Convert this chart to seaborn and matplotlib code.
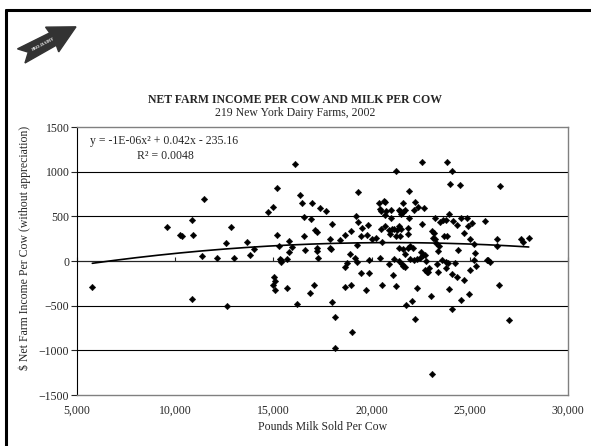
import numpy as np
import pandas as pd
import matplotlib
matplotlib.use("Agg")
import matplotlib.pyplot as plt
import seaborn as sns
from matplotlib.lines import Line2D
from matplotlib.patches import Polygon
from matplotlib.ticker import FuncFormatter, NullFormatter

# pounds milk sold per cow, net farm income per cow ($)
milk = [
    5780, 9570, 10230, 10360, 10840, 10920, 10870, 11470, 11380, 12110, 12590, 12840, 12980, 12620, 13660, 13810,
    13995, 16116, 15201, 14725, 14963, 16371, 16438, 16947, 17372, 17678, 16540, 16914, 15201, 15303, 15795, 15812,
    15947, 16573, 16609, 17134, 17237, 17220, 17220, 17288, 17967, 17882, 17882, 17933, 18408, 18646, 18968, 19293,
    19226, 19327, 19531, 19837, 19751, 19446, 19243, 18887, 19158, 19260, 19888, 18760, 18625, 19463, 19854, 19717,
    18968, 18663, 15336, 15405, 15387, 15677, 15047, 15100, 14980, 15100, 15677, 17083, 16863, 16186, 17984, 18152,
    19022, 18152,
    21242, 22582, 23839, 24109, 23976, 24516, 21919, 20392, 20647, 20698, 20428, 20462, 20749, 20988, 20664, 20968,
    21579, 21392, 21460, 21599, 21684, 21511, 22233, 22148, 22386, 22691, 21884, 20020, 20224, 20530, 20479, 20682,
    20870, 21022, 21157, 20937, 21258, 21410, 21511, 21293, 21446, 21853, 21867, 21410, 21613, 21701, 21853, 21955,
    22108, 22549, 23095, 23183, 23132, 23218, 23251, 23505, 23642, 23777, 23930, 24134, 24363, 24567, 24839, 24890,
    25093, 25789, 24705, 25010, 25230, 25247, 23676, 23856, 23302, 23432, 23364, 24399, 22530, 22600, 22719, 22464,
    22787, 22295, 22159, 21955, 22736, 22838, 22923, 22889, 23347, 23364, 23585, 23805, 23907, 23788, 24075, 24262,
    24330, 24705, 23959, 24567, 24959, 24093, 25010, 25214, 25298, 25943, 21613, 21546, 21714, 21392, 21137, 20901,
    20410, 21073, 20545, 21242, 22311, 21768, 22080, 22193, 23024, 23091,
    26553, 26400, 26400, 27622, 27724, 28000, 25891, 26044, 26486, 26980,
]
income = [
    -287, 384, 294, 279, 458, 294, -421, 699, 54, 36, 204, 384, 28, -503, 216, 70,
    129, 1084, 822, 545, 605, 736, 650, 646, 590, 560, 489, 470, 290, 171, 223, 103,
    160, 275, 126, 343, 328, 144, 107, 28, 418, 245, 140, 129, 238, 290, 339, 773,
    508, 436, 369, 407, 290, 283, 178, 81, 39, -13, 13, -25, -62, -129, -137, -320,
    -264, -290, 25, 6, -13, 25, -174, -219, -267, -324, -298, -267, -362, -485, -459, -627,
    -792, -972,
    1013, 1103, 1110, 1006, 863, 848, 784, 650, 672, 657, 579, 556, 560, 575, 511, 481,
    646, 575, 560, 553, 571, 530, 665, 571, 605, 593, 478, 245, 256, 211, 357, 391,
    350, 357, 362, 301, 275, 388, 362, 343, 275, 373, 306, 140, 133, 81, 148, 163,
    148, 418, 331, 317, 261, 242, 481, 436, 455, 458, 522, 444, 399, 481, 481, 388,
    425, 444, 312, 242, 185, 92, 279, 279, 204, 171, 115, 118, 99, 70, 62, 31,
    -2, 17, 9, 17, -96, -118, -73, -126, -39, -121, 9, -13, -17, -81, -144, -25,
    -182, -211, -313, -436, -373, -537, -99, 13, -54, 6, -51, -36, -62, 2, 25, -28,
    36, -155, -264, -283, -301, -496, -447, -654, -391, -1260,
    837, 242, 171, 242, 216, 261, 6, -13, -267, -661,
]

# trendline as printed on the chart
coef_a = -1e-6
coef_b = 0.042
coef_c = -235.16
eq_text = "y = -1E-06x² + 0.042x - 235.16"
r2_text = "R² = 0.0048"

x_ticks = [5000, 10000, 15000, 20000, 25000, 30000]
y_ticks = [-1500, -1000, -500, 0, 500, 1000, 1500]

df = pd.DataFrame({"milk": milk, "income": income})
xs = np.linspace(df["milk"].min(), df["milk"].max(), 200)
trend = pd.DataFrame({"milk": xs, "income": coef_a * xs**2 + coef_b * xs + coef_c})

sns.set_style("white")
plt.rcParams["font.family"] = ["Liberation Serif", "DejaVu Serif"]
FS = 8.5

fig = plt.figure(figsize=(5.91, 4.46), dpi=100)
ax = fig.add_axes([77 / 591, 1 - 395 / 446, 491 / 591, 268 / 446])

for v in y_ticks[1:-1]:
    ax.axhline(v, color="black", lw=0.8, zorder=0)

sns.scatterplot(data=df, x="milk", y="income", marker="D", s=11, color="black",
                edgecolor="black", linewidth=0.3, ax=ax, zorder=3)
sns.lineplot(data=trend, x="milk", y="income", color="black", lw=1.2, ax=ax, zorder=4)

ax.set_xlim(5000, 30000)
ax.set_ylim(-1500, 1500)
ax.set_xticks(x_ticks)
ax.set_yticks(y_ticks)
ax.xaxis.set_major_formatter(FuncFormatter(lambda v, p: f"{int(v):,}"))
ax.tick_params(axis="x", length=0, pad=7, labelsize=FS)
ax.tick_params(axis="y", length=4, width=0.8, direction="out", pad=1.5, labelsize=FS, left=True)

for side in ["top", "right", "bottom"]:
    ax.spines[side].set_color("#808080")
    ax.spines[side].set_linewidth(1)
ax.spines["left"].set_color("black")
ax.spines["left"].set_linewidth(0.8)

# x axis crosses at zero, ticks drawn there
sec = ax.secondary_xaxis(0.5)
sec.set_xticks(x_ticks)
sec.xaxis.set_major_formatter(NullFormatter())
sec.tick_params(axis="x", length=3, width=0.8, direction="out")
sec.spines["bottom"].set_linewidth(0.8)

ax.set_xlabel("Pounds Milk Sold Per Cow", fontsize=FS)
ax.set_ylabel("$ Net Farm Income Per Cow (without appreciation)", fontsize=FS)
ax.xaxis.set_label_coords(0.5, -0.097)
ax.yaxis.set_label_coords(-0.094, 0.55)

ax.text(0.026, 0.948, eq_text, transform=ax.transAxes, fontsize=FS, va="center", ha="left")
ax.text(0.18, 0.893, r2_text, transform=ax.transAxes, fontsize=FS, va="center", ha="center")

fig.text(0.5, 1 - 100 / 446, "NET FARM INCOME PER COW AND MILK PER COW",
         ha="center", va="center", fontsize=FS, fontweight="bold")
fig.text(0.5, 1 - 113 / 446, "219 New York Dairy Farms, 2002",
         ha="center", va="center", fontsize=FS)

# page frame
fig.add_artist(Line2D([6 / 591, 6 / 591], [0, 1 - 10 / 446], transform=fig.transFigure,
                      color="black", lw=2.2))
fig.add_artist(Line2D([6 / 591, 1], [1 - 10 / 446, 1 - 10 / 446], transform=fig.transFigure,
                      color="black", lw=2.2))

# PRO-DAIRY arrow logo
logo = fig.add_axes([0, 1 - 80 / 446, 100 / 591, 80 / 446])
logo.set_xlim(0, 100)
logo.set_ylim(80, 0)
logo.axis("off")
shape = np.array([[-2, -8], [6, 0], [-2, 8], [34, 7], [33, 14], [60, 0], [33, -14], [34, -7]], dtype=float)
ang = np.deg2rad(-28)
rot = np.array([[np.cos(ang), -np.sin(ang)], [np.sin(ang), np.cos(ang)]])
pts = shape @ rot.T + np.array([23, 55])
logo.add_patch(Polygon(pts, closed=True, facecolor="#333333", edgecolor="#333333"))
logo.text(44, 44, "PRO-DAIRY", rotation=28, fontsize=3.2, color="white", fontweight="bold",
          ha="center", va="center")

fig.savefig("out.png", dpi=100)
